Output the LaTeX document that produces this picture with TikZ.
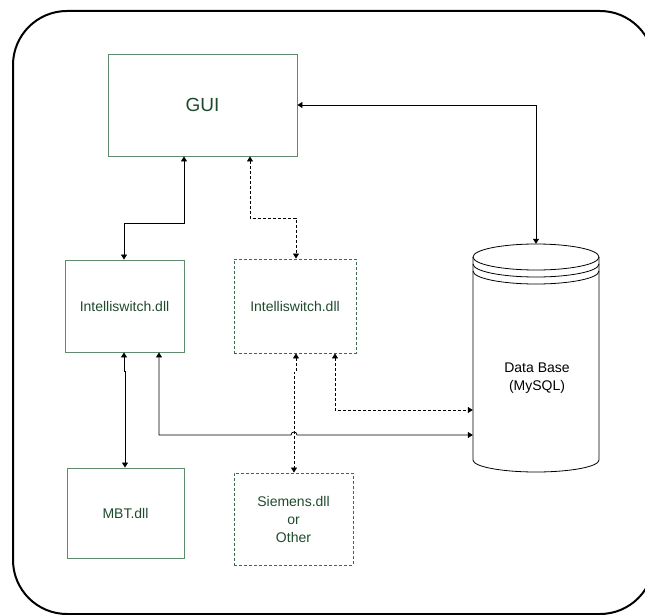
\documentclass[tikz,border=0pt]{standalone}
\usepackage{fontspec}
\setmainfont{Liberation Sans}
\usetikzlibrary{arrows.meta}
\definecolor{boxline}{HTML}{5E8A6E}
\definecolor{dashline}{HTML}{3C6A4C}
\definecolor{boxtext}{HTML}{1E4A2C}
\begin{document}
\begin{tikzpicture}[x=1pt,y=-1pt,
  module/.style={draw=boxline, line width=0.9pt, text=boxtext,
    font=\fontsize{14}{18}\selectfont, align=center, inner sep=0pt},
  optional/.style={module, draw=dashline, dash pattern=on 3pt off 2pt},
  link/.style={line width=0.8pt,
    {Triangle[length=5pt,width=6pt]}-{Triangle[length=5pt,width=6pt]}},
  optlink/.style={link, dash pattern=on 3pt off 2pt},
  frame/.style={line width=2pt, rounded corners=54pt}]
\useasboundingbox (0,0) rectangle (645,615);
\clip (0,0) rectangle (645,615);

% outer frame
\draw[frame] (13,11) rectangle (654,614);

% modules
\node[module, minimum width=189pt, minimum height=102pt,
  font=\fontsize{19}{22}\selectfont] (gui) at (202.5,105) {GUI};
\node[module, minimum width=119pt, minimum height=92pt] (i1) at (124.5,306) {Intelliswitch.dll};
\node[optional, minimum width=122pt, minimum height=94pt] (i2) at (295,306) {Intelliswitch.dll};
\node[module, minimum width=117pt, minimum height=90pt] (mbt) at (125.5,513) {MBT.dll};
\node[optional, minimum width=119pt, minimum height=92pt] (sie) at (293.5,519) {Siemens.dll\\or\\Other};

% database cylinder
\node[minimum width=126pt, minimum height=228pt, inner sep=0pt] (db) at (536,358) {};
\filldraw[fill=white, line width=0.8pt]
  (473,257) -- (473,460) arc[start angle=180, end angle=360, x radius=63pt, y radius=12pt] -- (599,257);
\draw[line width=0.8pt] (536,257) ellipse [x radius=63pt, y radius=13pt];
\draw[line width=0.8pt] (473,264) arc[start angle=180, end angle=360, x radius=63pt, y radius=13pt];
\draw[line width=0.8pt] (473,271) arc[start angle=180, end angle=360, x radius=63pt, y radius=13pt];
\node[font=\fontsize{14}{18}\selectfont, align=center] (dblabel) at (537,378) {Data Base\\(MySQL)};

% connectors
\draw[link] (gui.south -| 184,0) -- (184,223) -| (i1.north -| 124,0);
\draw[optlink] (gui.south -| 250,0) -- (250,218) -| (i2.north -| 296,0);
\draw[link] (gui.east) -| (db.north);
\draw[link] (i1.south -| 124,0) -- (124,371) -- (125,371) -- (mbt.north -| 125,0);
\draw[link] (i1.south -| 159,0) -- (159,435) -- (291,435)
  .. controls (291,431) and (297,431) .. (297,435) -- (db.west |- 0,435);
\draw[optlink] (i2.south -| 335,0) -- (335,410) -- (db.west |- 0,410);
\draw[optlink] (i2.south -| 296,0) -- (296,372) -- (294,372) -- (sie.north -| 294,0);
\end{tikzpicture}
\end{document}
